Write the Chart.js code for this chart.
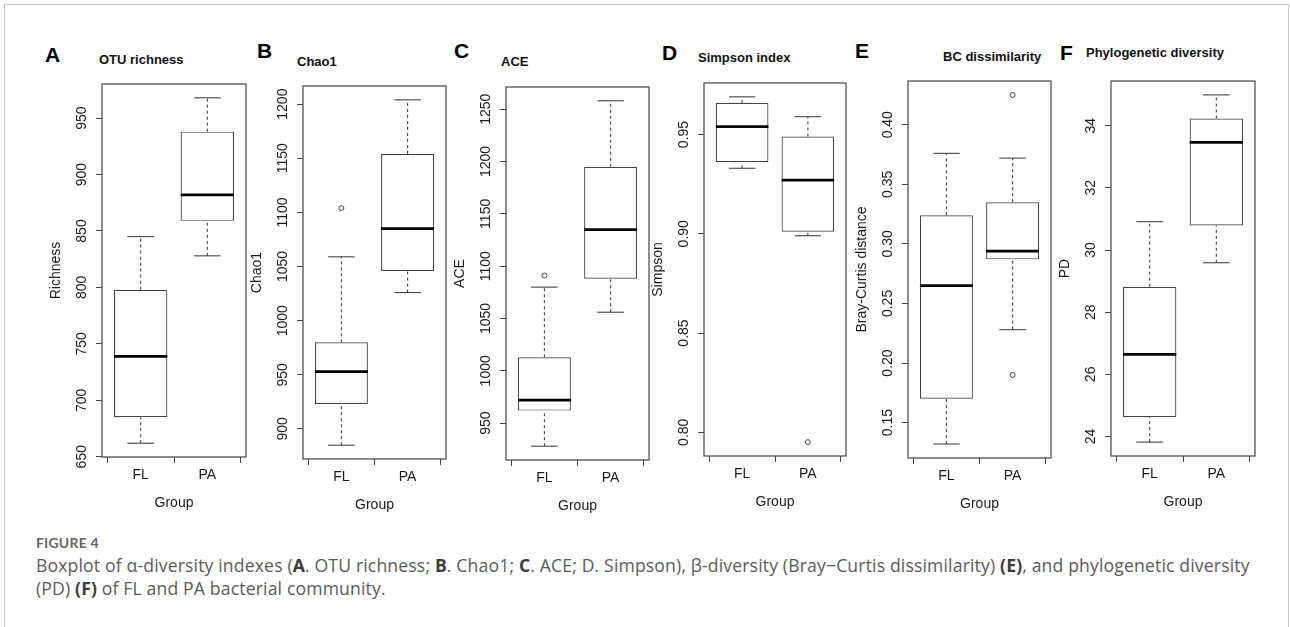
<!DOCTYPE html>
<html>
<head>
<meta charset="utf-8">
<script src="https://cdn.jsdelivr.net/npm/chart.js@4.4.1/dist/chart.umd.min.js"></script>
<style>
  html, body { margin: 0; padding: 0; background: #fff; }
  body { width: 1290px; height: 627px; position: relative; overflow: hidden; }
  .frame { position: absolute; left: 4px; top: 4px; width: 1283px; height: 640px;
           border: 1px solid #c8c8c8; border-bottom: none; }
  canvas { position: absolute; }
  .letter { position: absolute; font: bold 21px "Liberation Sans", Arial, sans-serif; line-height: 1; color: #000; }
  .ptitle { position: absolute; font: bold 13px "Liberation Sans", Arial, sans-serif; line-height: 1;
            color: #111; white-space: nowrap; }
  .fig { position: absolute; left: 36px; top: 536px; font: bold 14px Lato, sans-serif; line-height: 1;
         color: #666; letter-spacing: 0.2px; }
  .cap { position: absolute; left: 36px; top: 554px; font: 17.6px "Open Sans", sans-serif; line-height: 23px;
         letter-spacing: 0.15px; color: #5a5a5a; white-space: nowrap; }
  .cap b { color: #3c3c3c; }
</style>
</head>
<body>
<div class="frame"></div>

<div class="letter" style="left:45px;top:44px">A</div>
<div class="letter" style="left:257px;top:40px">B</div>
<div class="letter" style="left:454px;top:40px">C</div>
<div class="letter" style="left:662px;top:42px">D</div>
<div class="letter" style="left:855px;top:40px">E</div>
<div class="letter" style="left:1060px;top:42px">F</div>

<div class="ptitle" style="left:99px;top:53px">OTU richness</div>
<div class="ptitle" style="left:297px;top:55px">Chao1</div>
<div class="ptitle" style="left:501px;top:55px">ACE</div>
<div class="ptitle" style="left:698px;top:51px">Simpson index</div>
<div class="ptitle" style="left:943px;top:50px">BC dissimilarity</div>
<div class="ptitle" style="left:1086px;top:46px">Phylogenetic diversity</div>

<div class="fig">FIGURE 4</div>
<div class="cap">Boxplot of α-diversity indexes (<b>A</b>. OTU richness; <b>B</b>. Chao1; <b>C</b>. ACE; D. Simpson), β-diversity (Bray−Curtis dissimilarity) <b>(E)</b>, and phylogenetic diversity<br>(PD) <b>(F)</b> of FL and PA bacterial community.</div>

<script>
const groups = ['FL', 'PA'];

// lower whisker, Q1, median, Q3, upper whisker
const richnessFL = [662, 685, 739, 798, 845];
const richnessPA = [828, 859, 882, 938, 968];
const richnessOut = [[], []];
const richnessTicks = ['650', '700', '750', '800', '850', '900', '950'];

const chao1FL = [885, 923, 953, 980, 1059];
const chao1PA = [1026, 1046, 1085, 1154, 1204];
const chao1Out = [[1104], []];
const chao1Ticks = ['900', '950', '1000', '1050', '1100', '1150', '1200'];

const aceFL = [928, 962, 972, 1013, 1080];
const acePA = [1056, 1088, 1135, 1195, 1258];
const aceOut = [[1091], []];
const aceTicks = ['950', '1000', '1050', '1100', '1150', '1200', '1250'];

const simpsonFL = [0.933, 0.936, 0.954, 0.966, 0.969];
const simpsonPA = [0.899, 0.901, 0.927, 0.949, 0.959];
const simpsonOut = [[], [0.795]];
const simpsonTicks = ['0.80', '0.85', '0.90', '0.95'];

const bcFL = [0.132, 0.170, 0.265, 0.324, 0.376];
const bcPA = [0.228, 0.287, 0.294, 0.335, 0.372];
const bcOut = [[], [0.190, 0.425]];
const bcTicks = ['0.15', '0.20', '0.25', '0.30', '0.35', '0.40'];

const pdFL = [23.82, 24.62, 26.64, 28.82, 30.91];
const pdPA = [29.59, 30.79, 33.46, 34.23, 34.99];
const pdOut = [[], []];
const pdTicks = ['24', '26', '28', '30', '32', '34'];

// plot box of each panel on the page: left, top, width, height
const panels = [
  { id: 'A', yTitle: 'Richness', stats: [richnessFL, richnessPA], out: richnessOut, ticks: richnessTicks, box: [102, 84, 144, 373] },
  { id: 'B', yTitle: 'Chao1', stats: [chao1FL, chao1PA], out: chao1Out, ticks: chao1Ticks, box: [303, 86, 144, 373] },
  { id: 'C', yTitle: 'ACE', stats: [aceFL, acePA], out: aceOut, ticks: aceTicks, box: [506, 87, 144, 373] },
  { id: 'D', yTitle: 'Simpson', stats: [simpsonFL, simpsonPA], out: simpsonOut, ticks: simpsonTicks, box: [704, 83, 143, 373] },
  { id: 'E', yTitle: 'Bray-Curtis distance', stats: [bcFL, bcPA], out: bcOut, ticks: bcTicks, box: [908, 81, 144, 377] },
  { id: 'F', yTitle: 'PD', stats: [pdFL, pdPA], out: pdOut, ticks: pdTicks, box: [1111, 81, 144, 375] }
];

const LINE = '#444';
const TEXT = '#1a1a1a';
const FONT = { family: '"Liberation Sans", Arial, sans-serif', size: 14 };
const PAD_L = 60, PAD_B = 60, PAD_T = 8, PAD_R = 4;

// whiskers, caps, medians, frame and R-style rotated y labels
function boxplotPlugin(p) {
  return {
    id: 'boxplot' + p.id,
    afterDatasetsDraw(chart) {
      const { ctx, chartArea: a, scales: { x, y } } = chart;
      const boxHalf = (x.getPixelForValue(2) - x.getPixelForValue(1)) * 0.8 / 2;
      const seg = (x0, y0, x1, y1) => { ctx.beginPath(); ctx.moveTo(x0, y0); ctx.lineTo(x1, y1); ctx.stroke(); };
      ctx.save();
      p.stats.forEach((s, i) => {
        const cx = x.getPixelForValue(i + 1);
        const py = s.map(v => y.getPixelForValue(v));
        ctx.strokeStyle = LINE;
        ctx.lineWidth = 1.1;
        ctx.setLineDash([3, 3]);
        seg(cx, py[0], cx, py[1]);
        seg(cx, py[3], cx, py[4]);
        ctx.setLineDash([]);
        seg(cx - boxHalf / 2, py[0], cx + boxHalf / 2, py[0]);
        seg(cx - boxHalf / 2, py[4], cx + boxHalf / 2, py[4]);
        ctx.strokeStyle = '#000';
        ctx.lineWidth = 2.7;
        seg(cx - boxHalf, py[2], cx + boxHalf, py[2]);
      });
      ctx.strokeStyle = LINE;
      ctx.lineWidth = 1.2;
      ctx.strokeRect(a.left, a.top, a.right - a.left, a.bottom - a.top);

      ctx.font = FONT.size + 'px ' + FONT.family;
      ctx.fillStyle = TEXT;
      ctx.textAlign = 'center';
      ctx.textBaseline = 'middle';
      y.ticks.forEach((t, k) => {
        ctx.save();
        ctx.translate(a.left - 20, y.getPixelForValue(t.value));
        ctx.rotate(-Math.PI / 2);
        ctx.fillText(p.ticks[k], 0, 0);
        ctx.restore();
      });
      ctx.restore();
    }
  };
}

panels.forEach(p => {
  const [left, top, w, h] = p.box;
  const cv = document.createElement('canvas');
  cv.width = PAD_L + w + PAD_R;
  cv.height = PAD_T + h + PAD_B;
  cv.style.left = (left - PAD_L) + 'px';
  cv.style.top = (top - PAD_T) + 'px';
  document.body.appendChild(cv);

  const all = p.stats.flat().concat(p.out.flat());
  const lo = Math.min(...all), hi = Math.max(...all);
  const ext = (hi - lo) * 0.04;

  const outPts = [];
  p.out.forEach((vals, i) => vals.forEach(v => outPts.push({ x: i + 1, y: v })));

  new Chart(cv, {
    type: 'bar',
    data: {
      datasets: [
        {
          type: 'bar',
          data: p.stats.map((s, i) => ({ x: i + 1, y: [s[1], s[3]] })),
          backgroundColor: '#fff',
          borderColor: LINE,
          borderWidth: 1.2,
          borderSkipped: false,
          barPercentage: 0.8,
          categoryPercentage: 1
        },
        {
          type: 'scatter',
          data: outPts,
          pointRadius: 2.5,
          pointBackgroundColor: 'rgba(0,0,0,0)',
          pointBorderColor: LINE,
          pointBorderWidth: 1
        }
      ]
    },
    options: {
      responsive: false,
      animation: false,
      events: [],
      layout: { padding: { left: 0, top: PAD_T, right: PAD_R, bottom: 0 } },
      plugins: { legend: { display: false }, tooltip: { enabled: false } },
      scales: {
        x: {
          type: 'linear',
          min: 0.42,
          max: 2.58,
          offset: false,
          afterBuildTicks: s => { s.ticks = groups.map((g, i) => ({ value: i + 1 })); },
          afterFit: s => { s.height = PAD_B; },
          ticks: { callback: (v, i) => groups[i], font: FONT, color: TEXT, padding: 4, maxRotation: 0, autoSkip: false },
          grid: { drawOnChartArea: false, drawTicks: true, tickLength: 6, color: LINE, lineWidth: 1 },
          border: { display: false },
          title: { display: true, text: 'Group', font: FONT, color: TEXT, padding: { top: 0, bottom: 5.6 } }
        },
        y: {
          type: 'linear',
          min: lo - ext,
          max: hi + ext,
          afterBuildTicks: s => { s.ticks = p.ticks.map(t => ({ value: Number(t) })); },
          afterFit: s => { s.width = PAD_L; },
          ticks: { display: false },
          grid: { drawOnChartArea: false, drawTicks: true, tickLength: 6, color: LINE, lineWidth: 1 },
          border: { display: false },
          title: { display: true, text: p.yTitle, font: FONT, color: TEXT, padding: { top: 5.9, bottom: 0 } }
        }
      }
    },
    plugins: [boxplotPlugin(p)]
  });
});
</script>
</body>
</html>
